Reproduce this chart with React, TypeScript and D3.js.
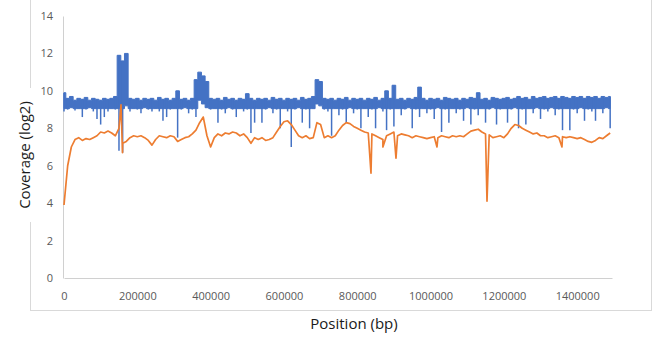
import { useEffect, useRef } from "react";
import * as d3 from "d3";

const W = 653;
const H = 339;

// one value per 10 kb bin
const binStep = 10000;

const orangeCov = [
  3.9, 6.0, 7.0, 7.4, 7.5, 7.35, 7.45, 7.4, 7.5, 7.6,
  7.8, 7.75, 7.85, 7.75, 7.6, 8.0, 7.2, 7.3, 7.5, 7.6,
  7.55, 7.6, 7.5, 7.35, 7.1, 7.4, 7.6, 7.55, 7.5, 7.6,
  7.55, 7.3, 7.4, 7.5, 7.55, 7.7, 7.9, 8.3, 8.6, 7.6,
  7.0, 7.5, 7.7, 7.6, 7.75, 7.7, 7.8, 7.75, 7.6, 7.7,
  7.5, 7.2, 7.5, 7.4, 7.5, 7.35, 7.4, 7.5, 7.8, 8.1,
  8.35, 8.4, 8.2, 7.9, 7.6, 7.5, 7.6, 7.45, 7.5, 8.3,
  8.2, 7.5, 7.6, 7.5, 7.6, 7.9, 8.15, 8.3, 8.25, 8.1,
  8.0, 7.9, 7.8, 7.75, 7.7, 7.6, 7.5, 7.4, 7.6, 7.7,
  7.8, 7.6, 7.7, 7.65, 7.6, 7.5, 7.6, 7.55, 7.5, 7.45,
  7.5, 7.55, 7.5, 7.6, 7.55, 7.5, 7.6, 7.55, 7.6, 7.55,
  7.7, 7.85, 7.9, 7.95, 7.8, 7.7, 7.65, 7.5, 7.55, 7.6,
  7.5, 7.7, 8.0, 8.2, 8.15, 8.0, 7.9, 7.8, 7.7, 7.75,
  7.6, 7.6, 7.5, 7.55, 7.6, 7.5, 7.55, 7.5, 7.55, 7.5,
  7.45, 7.5, 7.4, 7.3, 7.25, 7.35, 7.5, 7.45, 7.6, 7.75,
];

// narrow spikes in the orange series: [position, coverage]
const orangeSpikes: [number, number][] = [
  [155500, 9.25],
  [159600, 6.7],
  [837500, 5.6],
  [870000, 7.0],
  [905700, 6.4],
  [1017500, 7.0],
  [1154000, 4.1],
  [1358500, 7.0],
];

// blue series is very dense: top and bottom of each 10 kb bin
const blueMax = [
  9.9, 9.6, 9.7, 9.5, 9.6, 9.55, 9.65, 9.5, 9.6, 9.55,
  9.5, 9.6, 9.55, 9.6, 9.7, 11.9, 11.6, 12.0, 9.6, 9.55,
  9.6, 9.5, 9.6, 9.55, 9.6, 9.5, 9.65, 9.55, 9.6, 9.5,
  9.6, 10.0, 9.55, 9.6, 9.5, 9.6, 10.6, 11.0, 10.8, 10.5,
  9.6, 9.55, 9.6, 9.5, 9.65, 9.55, 9.6, 9.5, 9.6, 9.55,
  9.85, 9.6, 9.5, 9.6, 9.55, 9.6, 9.5, 9.65, 9.55, 9.6,
  9.5, 9.6, 9.55, 9.6, 9.5, 9.65, 9.55, 9.6, 9.7, 10.6,
  10.5, 9.6, 9.55, 9.6, 9.5, 9.6, 9.55, 9.65, 9.5, 9.6,
  9.55, 9.6, 9.5, 9.6, 9.55, 9.65, 9.5, 9.6, 10.0, 9.6,
  10.3, 9.55, 9.6, 9.5, 9.6, 9.55, 9.65, 10.2, 9.6, 9.5,
  9.6, 9.55, 9.6, 9.5, 9.65, 9.6, 9.55, 9.6, 9.5, 9.6,
  9.55, 9.65, 9.6, 9.9, 9.55, 9.6, 9.5, 9.65, 9.6, 9.55,
  9.6, 9.65, 9.55, 9.6, 9.7, 9.6, 9.65, 9.55, 9.7, 9.6,
  9.65, 9.7, 9.6, 9.65, 9.7, 9.6, 9.7, 9.65, 9.6, 9.7,
  9.65, 9.7, 9.6, 9.7, 9.65, 9.7, 9.6, 9.7, 9.65, 9.7,
];

const blueMin = [
  8.9, 9.0, 9.1, 8.95, 9.05, 8.6, 9.0, 9.1, 8.9, 8.5,
  8.2, 8.6, 8.9, 9.05, 9.0, 6.8, 6.7, 9.2, 8.9, 9.05,
  9.0, 8.8, 9.1, 9.0, 8.9, 9.05, 8.9, 8.4, 8.6, 9.0,
  9.05, 7.5, 9.0, 9.1, 8.8, 9.0, 8.6, 9.5, 9.3, 9.1,
  9.0, 9.05, 8.3, 9.0, 8.8, 9.1, 9.0, 8.6, 9.05, 8.9,
  9.0, 7.75, 8.3, 9.05, 8.3, 9.0, 9.1, 8.8, 9.0, 8.0,
  9.05, 8.9, 7.0, 9.0, 9.1, 8.3, 9.0, 8.0, 9.05, 9.3,
  9.2, 9.0, 8.9, 7.6, 9.05, 8.7, 9.0, 8.3, 9.1, 8.8,
  9.0, 8.0, 9.05, 8.6, 9.0, 8.0, 9.1, 8.9, 7.9, 9.0,
  8.1, 9.05, 8.7, 9.0, 9.1, 8.0, 9.0, 8.6, 9.05, 8.8,
  9.0, 8.5, 9.1, 7.8, 9.0, 8.3, 9.05, 8.8, 9.0, 8.4,
  9.1, 8.2, 9.0, 8.7, 9.05, 8.3, 9.0, 9.1, 8.2, 9.0,
  9.05, 8.3, 9.0, 9.1, 8.0, 9.0, 8.2, 9.05, 8.8, 9.1,
  8.5, 9.0, 8.9, 9.1, 8.7, 9.0, 7.9, 9.05, 7.9, 9.0,
  8.8, 9.1, 8.4, 9.0, 8.9, 8.4, 9.05, 8.8, 9.1, 8.0,
];

const xTicks = [0, 200000, 400000, 600000, 800000, 1000000, 1200000, 1400000];
const yTicks = [0, 2, 4, 6, 8, 10, 12, 14];

const xTitle = "Position (bp)";
const yTitle = "Coverage (log2)";

export default function App() {
  const ref = useRef<SVGSVGElement>(null);

  useEffect(() => {
    const svg = d3.select(ref.current);
    svg.selectAll("*").remove();

    const font = "'Open Sans', 'Liberation Sans', sans-serif";
    const blue = "#4472C4";

    const x = d3.scaleLinear().domain([0, 1495000]).range([64, 612]);
    const y = d3.scaleLinear().domain([0, 14]).range([278, 16]);

    // chart frame
    svg.append("rect")
      .attr("x", 30.5)
      .attr("y", -0.5)
      .attr("width", 621)
      .attr("height", 311)
      .attr("fill", "#fff")
      .attr("stroke", "#d9d9d9");

    // axes
    const xAxis = svg.append("g")
      .attr("transform", `translate(0,${y(0)})`)
      .call(d3.axisBottom(x).tickValues(xTicks).tickSize(0).tickSizeOuter(0).tickPadding(14).tickFormat(d3.format("d")));
    const yAxis = svg.append("g")
      .attr("transform", `translate(${x(0) - 1},0)`)
      .call(d3.axisLeft(y).tickValues(yTicks).tickSize(0).tickSizeOuter(0).tickPadding(10));

    [xAxis, yAxis].forEach((g) => {
      g.select(".domain").attr("stroke", "#d0d0d0").attr("stroke-width", 1);
      g.selectAll("text")
        .attr("fill", "#595959")
        .attr("font-family", font)
        .attr("font-size", "11px");
    });

    // blue: dense core band (stepped per bin), thin strokes for the dips below it
    const bins = blueMax.map((v, i) => ({ pos: i * binStep, hi: v, lo: blueMin[i] }));
    const core = 9.05;

    svg.append("path")
      .datum(bins)
      .attr("d", d3.area<{ pos: number; hi: number; lo: number }>()
        .curve(d3.curveStep)
        .x((d) => x(d.pos))
        .y0((d) => y(Math.max(d.lo, core)))
        .y1((d) => y(d.hi)))
      .attr("fill", blue)
      .attr("stroke", blue)
      .attr("stroke-width", 1)
      .attr("stroke-linejoin", "round");

    svg.append("g")
      .selectAll("line")
      .data(bins.filter((d) => d.lo < core))
      .join("line")
      .attr("x1", (d) => x(d.pos))
      .attr("x2", (d) => x(d.pos))
      .attr("y1", (d) => y(d.hi))
      .attr("y2", (d) => y(d.lo))
      .attr("stroke", blue)
      .attr("stroke-width", 1.5);

    // orange: bins plus narrow spikes, sorted by position
    const orangePts: [number, number][] = orangeCov
      .map((v, i) => [i * binStep, v] as [number, number])
      .concat(orangeSpikes)
      .sort((a, b) => a[0] - b[0]);

    const line = d3.line<[number, number]>()
      .x((d) => x(d[0]))
      .y((d) => y(d[1]));

    svg.append("path")
      .datum(orangePts)
      .attr("d", line)
      .attr("fill", "none")
      .attr("stroke", "#ED7D31")
      .attr("stroke-width", 1.7)
      .attr("stroke-linejoin", "round");

    // axis titles
    svg.append("rect")
      .attr("x", 12)
      .attr("y", 88)
      .attr("width", 22)
      .attr("height", 134)
      .attr("fill", "#fff");

    svg.append("text")
      .attr("transform", `translate(30,155) rotate(-90)`)
      .attr("text-anchor", "middle")
      .attr("font-family", font)
      .attr("font-size", "15px")
      .attr("fill", "#1a1a1a")
      .text(yTitle);

    svg.append("text")
      .attr("x", 354)
      .attr("y", 329)
      .attr("text-anchor", "middle")
      .attr("font-family", font)
      .attr("font-size", "15px")
      .attr("fill", "#1a1a1a")
      .text(xTitle);
  }, []);

  return (
    <svg
      ref={ref}
      width={W}
      height={H}
      style={{ position: "absolute", left: 0, top: 0, background: "#fff" }}
    />
  );
}
